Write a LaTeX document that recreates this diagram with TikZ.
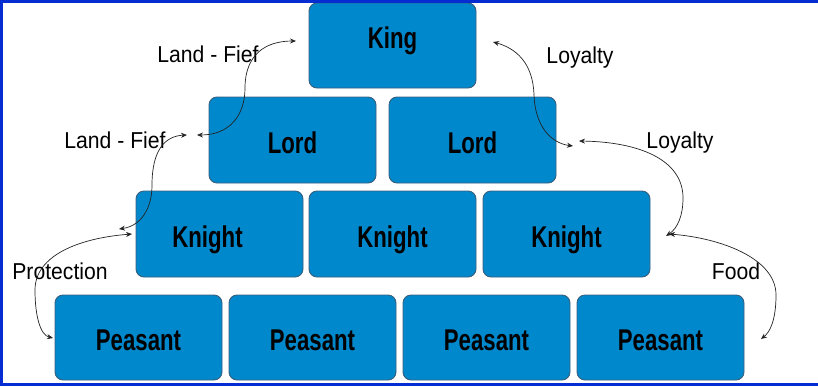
\documentclass[tikz,border=0pt]{standalone}
\usepackage{fontspec}
\setmainfont{Liberation Sans}
\newfontfamily\boxfont[FakeStretch=0.74]{Liberation Sans}
\newfontfamily\lblfont[FakeStretch=0.92]{Liberation Sans}
\usetikzlibrary{arrows.meta}
\definecolor{boxfill}{RGB}{0,136,204}
\definecolor{boxline}{RGB}{55,95,125}
\definecolor{frameblue}{RGB}{5,45,210}
\definecolor{arr}{RGB}{35,35,35}
\begin{document}
\begin{tikzpicture}[x=1pt,y=-1pt,
  pbox/.style={rectangle, rounded corners=8pt, fill=boxfill, draw=boxline, line width=0.9pt,
    minimum width=167pt, minimum height=86pt, inner sep=0pt,
    font=\boxfont\bfseries\fontsize{30}{32}\selectfont, text height=26pt, text depth=0pt},
  lbl/.style={font=\lblfont\fontsize{23}{25}\selectfont, text height=16.5pt, text depth=0pt, inner sep=0pt},
  conn/.style={draw=arr, line width=0.7pt, {Stealth[length=6pt,width=5pt]}-{Stealth[length=6pt,width=5pt]}}]
\useasboundingbox (0,0) rectangle (818,386);
\clip (0,0) rectangle (818,386);
% boxes
\node[pbox, minimum height=85pt, text depth=20.5pt] (king) at (392.5,45.5) {King};
\node[pbox] (lord1) at (292.5,140) {Lord};
\node[pbox] (lord2) at (472.5,140) {Lord};
\node[pbox] (kn1) at (219.5,234) {Knight\hspace*{24pt}};
\node[pbox] (kn2) at (392.5,234) {Knight};
\node[pbox] (kn3) at (566.5,234) {Knight};
\node[pbox, minimum height=85pt] (p1) at (138.5,337.5) {Peasant};
\node[pbox, minimum height=85pt] (p2) at (312.5,337.5) {Peasant};
\node[pbox, minimum height=85pt] (p3) at (486.5,337.5) {Peasant};
\node[pbox, minimum height=85pt] (p4) at (660.5,337.5) {Peasant};
% labels
\node[lbl] (lf1) at (208,54.5) {Land - Fief};
\node[lbl] (lf2) at (115,140) {Land - Fief};
\node[lbl] (loy1) at (580,55) {Loyalty};
\node[lbl] (loy2) at (680,140) {Loyalty};
\node[lbl] (prot) at (60,271.5) {Protection};
\node[lbl] (food) at (736,271.5) {Food};
% connector ends
\coordinate (c1a) at (197,135); \coordinate (c1b) at (296,41);
\coordinate (c2a) at (187,135); \coordinate (c2b) at (119,229);
\coordinate (c3a) at (132,234); \coordinate (c3b) at (53,338);
\coordinate (c4a) at (493,42);  \coordinate (c4b) at (573,146);
\coordinate (c5a) at (579,141); \coordinate (c5b) at (666,236);
\coordinate (c6a) at (669,234); \coordinate (c6b) at (761,339);
\draw[conn] (c1a) .. controls (230,135) and (245,115) .. (245,88) .. controls (245,55) and (265,41) .. (c1b);
\draw[conn] (c2a) .. controls (165,136) and (152,150) .. (152,185) .. controls (152,210) and (140,226) .. (c2b);
\draw[conn] (c3a) .. controls (80,238) and (35,255) .. (35,290) .. controls (35,315) and (40,335) .. (c3b);
\draw[conn] (c4a) .. controls (515,48) and (533,62) .. (534,95) .. controls (535,125) and (550,143) .. (c4b);
\draw[conn] (c5a) .. controls (640,142) and (683,160) .. (683,198) .. controls (683,215) and (678,228) .. (c5b);
\draw[conn] (c6a) .. controls (720,238) and (776,258) .. (776,295) .. controls (776,320) and (770,332) .. (c6b);
% frame
\fill[frameblue] (0,0) rectangle (818,3);
\fill[frameblue] (0,0) rectangle (3,386);
\fill[frameblue] (0,383) rectangle (818,386);
\end{tikzpicture}
\end{document}
